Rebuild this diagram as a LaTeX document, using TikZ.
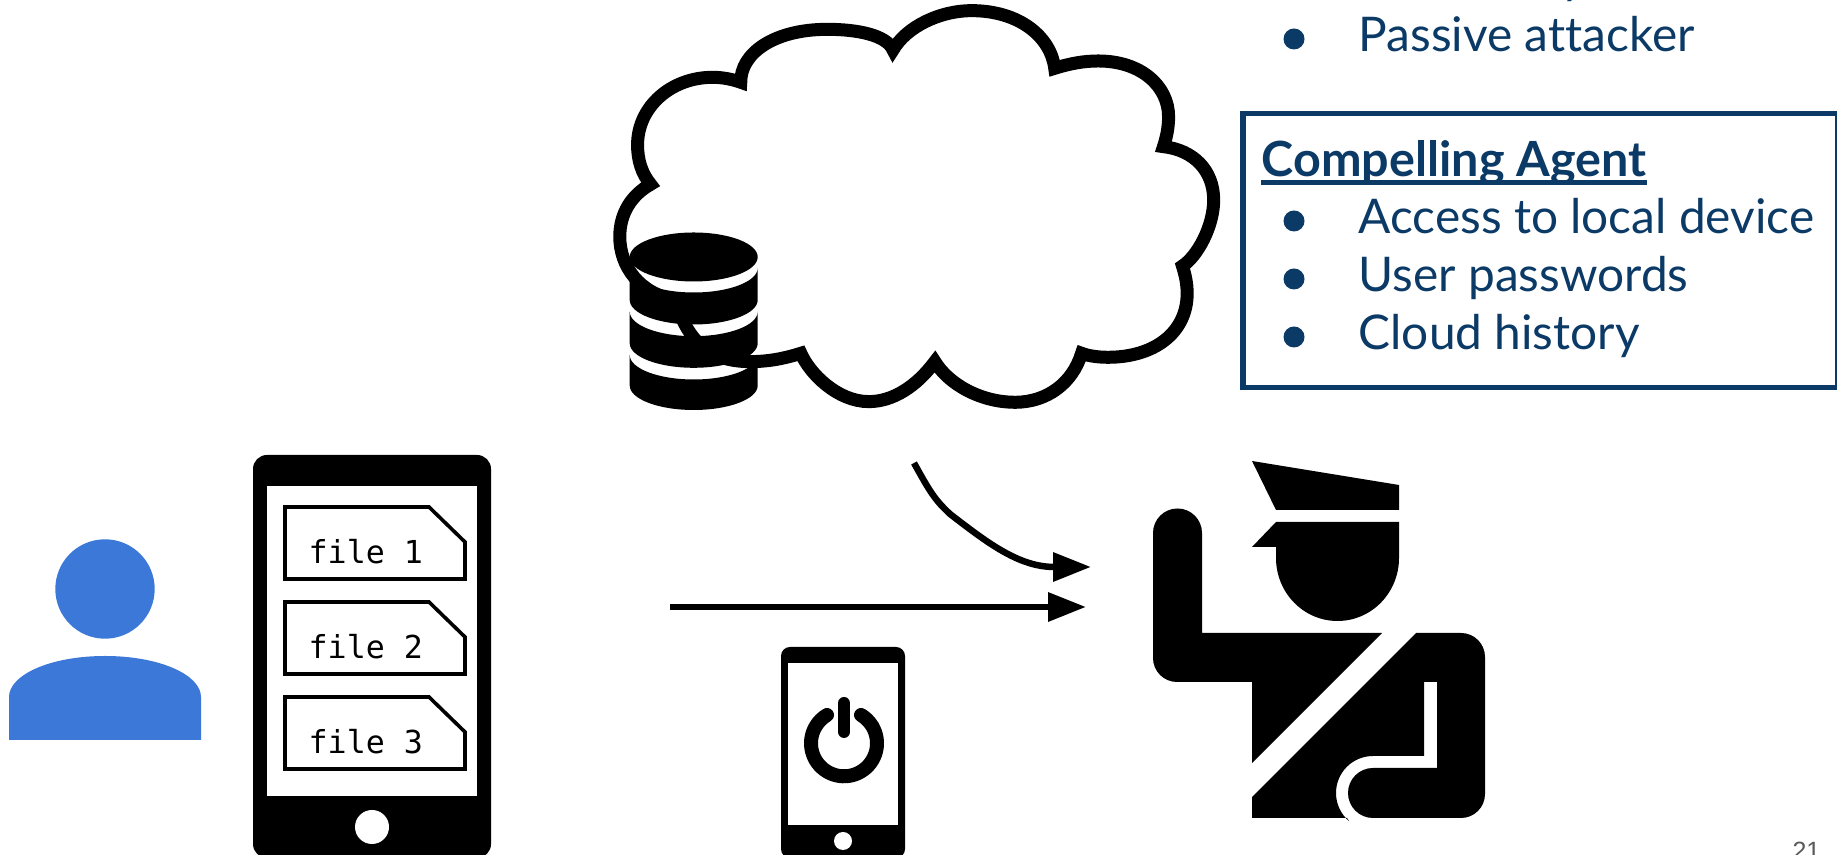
\documentclass[tikz,border=0pt]{standalone}
\usepackage{fontspec}
\setmainfont{Lato}[Ligatures=NoCommon]
\setmonofont{DejaVu Sans Mono}
\newfontfamily\pagefont{Liberation Sans}
\usetikzlibrary{arrows.meta}
\definecolor{boxblue}{HTML}{0B3A66}
\definecolor{userblue}{HTML}{3C78D8}
\definecolor{pagegray}{HTML}{595959}
\tikzset{
  listtext/.style={anchor=base west, inner sep=0pt, text=boxblue, font=\fontsize{13.6pt}{16pt}\selectfont},
  listdot/.style={boxblue, fill=boxblue},
  filetext/.style={anchor=base west, inner sep=0pt, font=\ttfamily\fontsize{9pt}{10pt}\selectfont},
  filebox/.style={line width=0.36mm, line join=miter},
  bigarrow/.style={line width=0.65mm, -{Triangle[length=3.8mm,width=2.8mm]}},
}
\begin{document}
\begin{tikzpicture}[x=0.1mm, y=0.1mm, yscale=-1]
  \useasboundingbox (0,0) rectangle (1837,855);

  % --- 1. cloud ---
  \begin{scope}[shift={(600,0)}, xscale=0.3954, yscale=0.3333]
    \draw[line width=1.3mm, miter limit=20, fill=white] (128,553)
      .. controls (105,520) and (95,480) .. (95,435)
      .. controls (95,320) and (180,232) .. (285,232)
      .. controls (310,232) and (335,238) .. (356,247)
      .. controls (355,160) and (440,88) .. (575,88)
      .. controls (650,88) and (725,105) .. (741,150)
      .. controls (775,80) and (860,32) .. (940,32)
      .. controls (1060,32) and (1140,110) .. (1150,205)
      .. controls (1190,190) and (1225,183) .. (1260,183)
      .. controls (1370,183) and (1438,260) .. (1438,350)
      .. controls (1438,385) and (1432,415) .. (1425,440)
      .. controls (1500,450) and (1552,510) .. (1552,600)
      .. controls (1552,680) and (1510,770) .. (1473,798)
      .. controls (1480,825) and (1485,850) .. (1485,880)
      .. controls (1485,1000) and (1400,1072) .. (1285,1072)
      .. controls (1260,1072) and (1235,1068) .. (1218,1060)
      .. controls (1195,1150) and (1130,1207) .. (1050,1207)
      .. controls (960,1207) and (880,1150) .. (847,1085)
      .. controls (800,1160) and (740,1205) .. (680,1205)
      .. controls (600,1205) and (530,1120) .. (508,1060)
      .. controls (460,1078) and (420,1085) .. (380,1085)
      .. controls (290,1085) and (225,1040) .. (190,900)
      .. controls (100,880) and (50,800) .. (50,710)
      .. controls (50,640) and (80,585) .. (128,553) -- cycle;
  \end{scope}

  % --- 2. database in front of the cloud ---
  \fill (693.7,257) ellipse [x radius=64, y radius=24.5];
  \foreach \ts/\bs in {268/300, 311.7/343.3, 355/385.5}{
    \fill (629.7,\bs) arc [start angle=180, end angle=0, x radius=64, y radius=24.5]
      -- (757.7,\ts) arc [start angle=0, end angle=180, x radius=64, y radius=24.5] -- cycle;
  }

  % --- 3. user ---
  \fill[userblue] (105,589) circle (49.7);
  \fill[userblue] (9,740) -- (9,697) .. controls (9,675) and (50,656) .. (105,656)
    .. controls (160,656) and (201,675) .. (201,697) -- (201,740) -- cycle;

  % --- 4. tablet with files ---
  \fill[rounded corners=1.4mm] (253,455) rectangle (491,858);
  \fill[white] (267,486) rectangle (477,796);
  \fill[white] (372,827) circle (17);
  \foreach \ftop/\flabel in {507/1, 602/2, 697/3}{
    \draw[filebox] (285,\ftop) -- (429,\ftop) -- (465,\ftop+35) -- (465,\ftop+72) -- (285,\ftop+72) -- cycle;
    \node[filetext] (file\flabel) at (308,\ftop+57) {file \flabel};
  }

  % --- 5. phone with power sign ---
  \fill[rounded corners=0.9mm] (781,647) rectangle (905,858);
  \fill[white] (788,663) rectangle (898,825);
  \fill[white] (843,841) circle (9);
  \draw[line width=1.4mm, line cap=round] (861,715) arc [start angle=-59, end angle=239, radius=33];
  \draw[line width=1.2mm, line cap=round] (844,703) -- (844,732);

  % --- 6. arrows to the officer ---
  \coordinate (devicestart) at (670,607);
  \coordinate (deviceend) at (1086,607);
  \coordinate (cloudstart) at (914,463);
  \coordinate (cloudend) at (1091,567);
  \draw[bigarrow] (devicestart) -- (deviceend);
  \draw[bigarrow] (cloudstart) .. controls (930,492) and (935,500) .. (950,514)
    .. controls (990,545) and (1020,567) .. (cloudend);

  % --- 7. officer ---
  \fill (1252,461) -- (1399,485) -- (1399,510) -- (1276,510) -- cycle;
  \fill (1276,522) -- (1399,522) -- (1399,558) arc [start angle=0, end angle=180, x radius=61.5, y radius=63]
    -- (1276,547) -- (1252,547) -- cycle;
  \fill (1202,633) -- (1382,633) -- (1252,763) -- (1252,682) -- (1177,682)
    arc [start angle=90, end angle=180, radius=24] -- (1153,533)
    arc [start angle=180, end angle=360, radius=24.5] -- cycle;
  \fill (1416,633) -- (1461,633) arc [start angle=-90, end angle=0, radius=24] -- (1485,794)
    arc [start angle=0, end angle=90, radius=24] -- (1373,818)
    arc [start angle=90, end angle=270, radius=25] -- (1437,768) -- (1437,682) -- (1424,682) -- (1424,756)
    -- (1373,756) arc [start angle=270, end angle=130, radius=37] -- (1347,818) -- (1252,818) -- (1252,797) -- cycle;

  % --- 8. text lists ---
  \node[listtext] (tailtext) at (1561,-6) {y};
  \fill[listdot] (1294,39) circle (10.5);
  \node[listtext] (passive) at (1358,52) {Passive attacker};

  \draw[boxblue, line width=0.55mm] (1243,113.5) rectangle (1838,387.5);
  \node[listtext, font=\fontsize{13.8pt}{16pt}\selectfont\bfseries] (agenttitle) at (1261,177) {Compelling Agent};
  \fill[boxblue] ([yshift=0.3mm]agenttitle.base west) rectangle ([yshift=0.8mm]agenttitle.base east);
  \foreach \dy/\ty/\tname/\ttext in {221/234/access/Access to local device, 279/292/passwords/User passwords, 337/350/history/Cloud history}{
    \fill[listdot] (1294,\dy) circle (10.5);
    \node[listtext] (\tname) at (1358,\ty) {\ttext};
  }

  % --- 9. page number ---
  \node[anchor=base east, inner sep=0pt, text=pagegray, font=\pagefont\fontsize{7.1pt}{8pt}\selectfont] (pagenum) at (1821,860) {21};
\end{tikzpicture}
\end{document}
